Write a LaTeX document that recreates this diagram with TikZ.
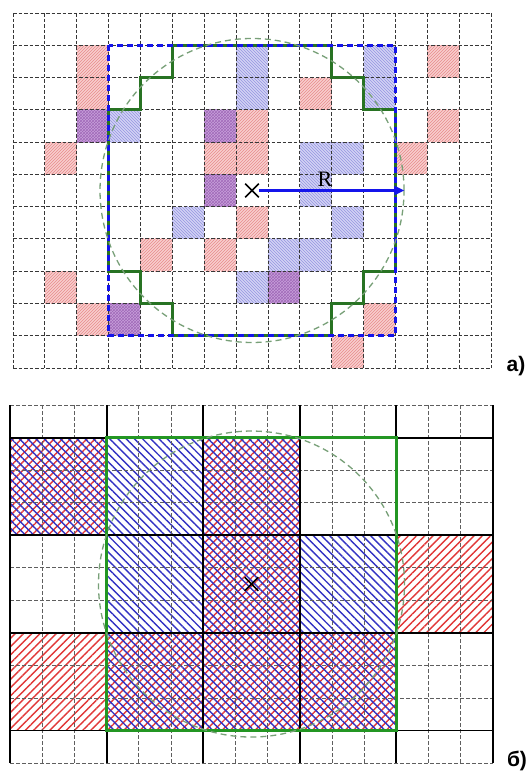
\documentclass[tikz,border=0pt]{standalone}
\usepackage{fontspec}
\newfontfamily\lblfont{Liberation Sans}
\newfontfamily\rfont{Liberation Serif}
\usetikzlibrary{patterns,patterns.meta,arrows.meta,shapes.misc}

\definecolor{pinkfill}{RGB}{248,206,206}
\definecolor{bluefill}{RGB}{210,210,244}
\definecolor{purplefill}{RGB}{200,160,218}
\definecolor{hatchred}{RGB}{232,140,140}
\definecolor{hatchblue}{RGB}{150,150,225}
\definecolor{hatchpurple}{RGB}{160,105,185}
\definecolor{gridgray}{RGB}{55,55,55}
\definecolor{finegray}{RGB}{95,95,95}
\definecolor{sqblue}{RGB}{20,20,235}
\definecolor{stairgreen}{RGB}{40,115,35}
\definecolor{rectgreen}{RGB}{35,150,35}
\definecolor{circgreen}{RGB}{120,160,120}
\definecolor{linered}{RGB}{225,55,55}
\definecolor{lineblue}{RGB}{50,50,195}

\tikzset{
  pk/.style={fill=pinkfill, postaction={pattern=north east lines, pattern color=hatchred}},
  bl/.style={fill=bluefill, postaction={pattern=north west lines, pattern color=hatchblue}},
  pu/.style={fill=purplefill, postaction={pattern=crosshatch, pattern color=hatchpurple}},
  gridA/.style={draw=gridgray, line width=0.9pt, dash pattern=on 3.5pt off 2pt},
  gridB/.style={draw=finegray, line width=0.9pt, dash pattern=on 3.5pt off 2.5pt},
  coarse/.style={draw=black, line width=1.9pt},
  stairA/.style={draw=stairgreen, line width=2.8pt},
  sqA/.style={draw=sqblue, line width=3pt, dash pattern=on 6pt off 4pt},
  rectB/.style={draw=rectgreen, line width=3pt},
  circ/.style={draw=circgreen, line width=1.3pt, dash pattern=on 6pt off 4pt},
  arrowA/.style={draw=sqblue, line width=2.5pt, -{Triangle[length=10pt,width=9pt]}},
  xmark/.style={cross out, draw=black, line width=1.6pt, minimum size=12pt, inner sep=0pt},
  redh/.style={pattern={Lines[angle=45,distance=5.8pt,line width=1.4pt]}, pattern color=linered},
  blueh/.style={pattern={Lines[angle=-45,distance=5.8pt,line width=1.4pt]}, pattern color=lineblue},
  rlabel/.style={font=\rfont\fontsize{22}{22}\selectfont, inner sep=0pt},
  lbl/.style={font=\lblfont\bfseries\fontsize{21}{21}\selectfont, inner sep=0pt}
}

\begin{document}
\begin{tikzpicture}[x=1pt,y=-1pt]
\useasboundingbox (0,0) rectangle (528,772);
\fill[white] (0,0) rectangle (528,772);

% ---------- part a ----------
\begin{scope}[shift={(13pt,-13pt)}, x=31.87pt, y=-32.27pt]
  \foreach \c/\r in {2/1,2/2,1/4,6/4,7/4,7/3,13/1,9/2,13/3,12/4,7/6,4/7,6/7,1/8,2/9,11/9,10/10}
    \path[pk] (\c,\r) rectangle ++(1,1);
  \foreach \c/\r in {3/3,7/1,7/2,11/1,11/2,9/4,10/4,9/5,5/6,10/6,8/7,9/7,7/8}
    \path[bl] (\c,\r) rectangle ++(1,1);
  \foreach \c/\r in {2/3,6/3,6/5,8/8,3/9}
    \path[pu] (\c,\r) rectangle ++(1,1);
  \foreach \i in {0,...,15} \draw[gridA] (\i,0) -- (\i,11);
  \foreach \j in {0,...,11} \draw[gridA] (0,\j) -- (15,\j);
  \draw[stairA] (5,1) -- (10,1) -- (10,2) -- (11,2) -- (11,3) -- (12,3) -- (12,8)
     -- (11,8) -- (11,9) -- (10,9) -- (10,10) -- (5,10) -- (5,9) -- (4,9) -- (4,8)
     -- (3,8) -- (3,3) -- (4,3) -- (4,2) -- (5,2) -- cycle;
  \draw[sqA] (3,1) rectangle (12,10);
  \coordinate (cA) at (7.5,5.5);
  \coordinate (aEnd) at (12.28,5.5);
\end{scope}
\draw[circ] (cA) circle[radius=152pt];
\node[xmark] (xA) at (cA) {};
\draw[arrowA] (xA.east) -- (aEnd);
\node[rlabel, anchor=base] (R) at (325,186) {R};
\node[lbl] (la) at (516,366) {a)};

% ---------- part b ----------
\begin{scope}[shift={(10pt,-405pt)}, x=32.2pt, y=-32.55pt]
  \foreach \c/\r in {0/0,2/0,2/1,4/1,0/2,1/2,2/2,3/2}
    \path[redh] (3*\c,1+3*\r) rectangle ++(3,3);
  \foreach \c/\r in {0/0,1/0,2/0,1/1,2/1,3/1,1/2,2/2,3/2}
    \path[blueh] (3*\c,1+3*\r) rectangle ++(3,3);
  \foreach \i in {0,...,15} \draw[gridB] (\i,0) -- (\i,11);
  \foreach \j in {0,...,11} \draw[gridB] (0,\j) -- (15,\j);
  \foreach \i in {0,3,...,15} \draw[coarse] (\i,0) -- (\i,11);
  \foreach \j in {1,4,7,10} \draw[coarse] (0,\j) -- (15,\j);
  \draw[rectB] (3,1) rectangle (12,10);
  \coordinate (cB) at (7.5,5.5);
\end{scope}
\draw[circ] (cB) circle[radius=153pt];
\node[xmark] (xB) at (cB) {};
\node[lbl] (lb) at (517,761) {б)};
\end{tikzpicture}
\end{document}
